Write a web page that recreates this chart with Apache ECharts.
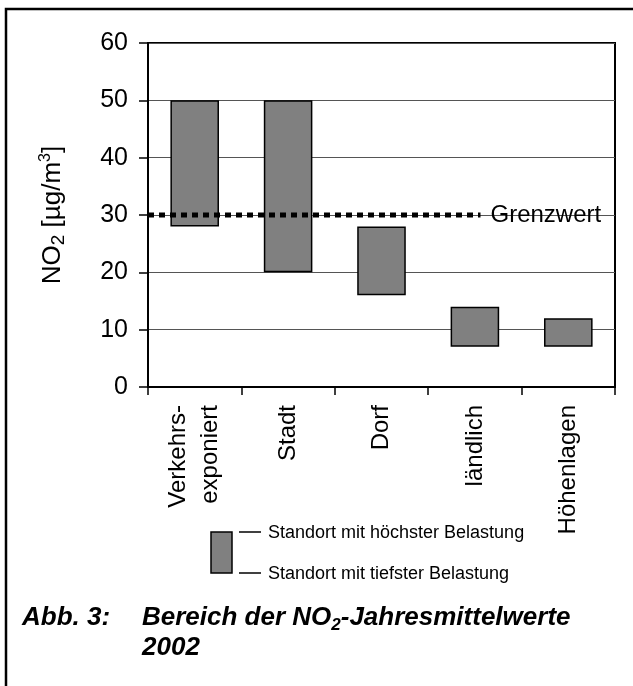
<!DOCTYPE html>
<html><head><meta charset="utf-8">
<script src="https://cdn.jsdelivr.net/npm/echarts@6/dist/echarts.min.js"></script>
<style>html,body{margin:0;padding:0;background:#fff}#c{width:633px;height:686px}</style>
</head><body><div id="c"></div>
<script>
// ---- data ----
const categories = ['Verkehrs-\nexponiert', 'Stadt', 'Dorf', 'ländlich', 'Höhenlagen'];
const lowValues  = [28, 20, 16, 7, 7];    // Standort mit tiefster Belastung
const highValues = [50, 50, 28, 14, 12];  // Standort mit höchster Belastung
const yTicks = [0, 10, 20, 30, 40, 50, 60];
const limitValue = 30;
const limitLabel = 'Grenzwert';
const limitSpan = [0, 3.56];               // extent of the limit line in category units
const legendTexts = ['Standort mit höchster Belastung', 'Standort mit tiefster Belastung'];
const captionLabel = 'Abb. 3:';
const captionLine1 = ['Bereich der NO', '2', '-Jahresmittelwerte'];
const captionLine2 = '2002';

// ---- derived ----
const rangeValues = highValues.map((h, i) => h - lowValues[i]);
const FONT = '"Liberation Sans", Arial, sans-serif';

const chart = echarts.init(document.getElementById('c'), null, {renderer: 'canvas'});
chart.setOption({
  animation: false,
  backgroundColor: '#fff',
  grid: {left: 148, right: 18, top: 43, bottom: 299, show: true, borderColor: '#000', borderWidth: 2, outerBoundsMode: 'none', containLabel: false},
  xAxis: [{
    type: 'category', data: categories, boundaryGap: true,
    axisLine: {lineStyle: {color: '#000', width: 2}},
    axisTick: {show: true, length: 8, lineStyle: {color: '#000', width: 1.5}},
    axisLabel: {rotate: 90, interval: 0, margin: 18, fontSize: 24, lineHeight: 32, color: '#000', fontFamily: FONT},
    splitLine: {show: false}
  }, {
    type: 'value', min: 0, max: categories.length, show: false
  }],
  yAxis: {
    type: 'value', min: yTicks[0], max: yTicks[yTicks.length - 1], interval: yTicks[1] - yTicks[0],
    name: '{a|NO}{s|2}{a| [µg/m}{p|3}{a|]}',
    nameLocation: 'middle', nameGap: 80, nameRotate: 90,
    nameTextStyle: {
      color: '#000', fontFamily: FONT,
      rich: {
        a: {fontSize: 26, lineHeight: 30, color: '#000', fontFamily: FONT},
        s: {fontSize: 19, lineHeight: 21, verticalAlign: 'bottom', color: '#000', fontFamily: FONT},
        p: {fontSize: 16, lineHeight: 20, verticalAlign: 'top', color: '#000', fontFamily: FONT}
      }
    },
    axisLine: {show: true, lineStyle: {color: '#000', width: 2}},
    axisTick: {show: true, length: 9, lineStyle: {color: '#000', width: 1.5}},
    axisLabel: {margin: 20, fontSize: 25, color: '#000', fontFamily: FONT},
    splitLine: {show: true, lineStyle: {color: '#555', width: 1}}
  },
  series: [{
    type: 'bar', stack: 'range', data: lowValues, barWidth: '52%',
    itemStyle: {color: 'rgba(0,0,0,0)', borderWidth: 0}, silent: true
  }, {
    type: 'bar', stack: 'range', data: rangeValues, barWidth: '52%',
    itemStyle: {color: '#808080', borderColor: '#000', borderWidth: 1.5}
  }, {
    type: 'line', xAxisIndex: 1, yAxisIndex: 0,
    data: limitSpan.map(x => [x, limitValue]),
    symbol: 'none', silent: true,
    lineStyle: {color: '#000', width: 5, type: [6, 5]},
    endLabel: {show: true, formatter: limitLabel, distance: 10, fontSize: 24, color: '#000', fontFamily: FONT},
    z: 5
  }],
  graphic: [
    {type: 'rect', shape: {x: 6, y: 9, width: 700, height: 700}, style: {fill: 'none', stroke: '#000', lineWidth: 2.5}, silent: true},
    {type: 'rect', shape: {x: 211, y: 532, width: 21, height: 41}, style: {fill: '#808080', stroke: '#000', lineWidth: 1.5}},
    {type: 'line', shape: {x1: 239, y1: 532, x2: 261, y2: 532}, style: {stroke: '#000', lineWidth: 1.5}},
    {type: 'line', shape: {x1: 239, y1: 573, x2: 261, y2: 573}, style: {stroke: '#000', lineWidth: 1.5}},
    {type: 'text', x: 268, y: 533, style: {text: legendTexts[0], font: '18px ' + FONT, fill: '#000', verticalAlign: 'middle', align: 'left'}},
    {type: 'text', x: 268, y: 574, style: {text: legendTexts[1], font: '18px ' + FONT, fill: '#000', verticalAlign: 'middle', align: 'left'}},
    {type: 'text', x: 22, y: 618, style: {text: captionLabel, font: 'italic bold 26px ' + FONT, fill: '#000', verticalAlign: 'middle', align: 'left'}},
    {type: 'text', x: 142, y: 618, style: {
      text: '{b|' + captionLine1[0] + '}{s|' + captionLine1[1] + '}{b|' + captionLine1[2] + '}',
      verticalAlign: 'middle', align: 'left',
      rich: {
        b: {fontSize: 26, fontWeight: 'bold', fontStyle: 'italic', fontFamily: FONT, lineHeight: 32, fill: '#000'},
        s: {fontSize: 17, fontWeight: 'bold', fontStyle: 'italic', fontFamily: FONT, lineHeight: 17, verticalAlign: 'bottom', fill: '#000'}
      }
    }},
    {type: 'text', x: 142, y: 648, style: {text: captionLine2, font: 'italic bold 26px ' + FONT, fill: '#000', verticalAlign: 'middle', align: 'left'}}
  ]
});
</script>
</body></html>
